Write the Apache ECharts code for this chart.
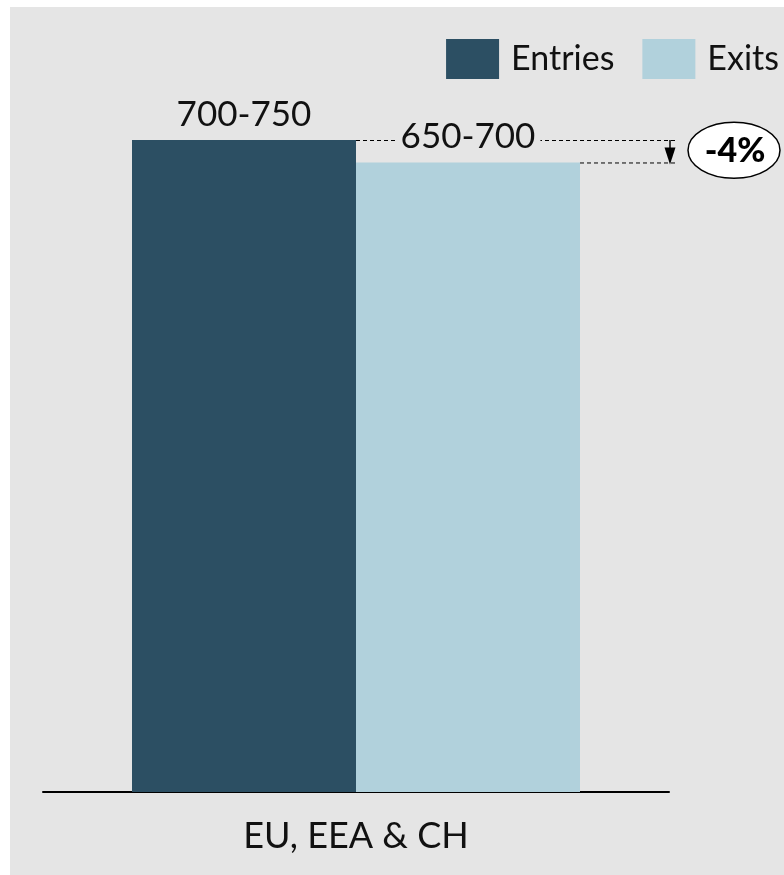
<!DOCTYPE html>
<html>
<head>
<meta charset="utf-8">
<script src="https://cdn.jsdelivr.net/npm/echarts@6/dist/echarts.min.js"></script>
<style>
html,body{margin:0;padding:0;background:#ffffff;}
#chart{width:784px;height:875px;}
</style>
</head>
<body>
<div id="chart"></div>
<script>
const categories = ['EU, EEA & CH'];
const seriesNames = ['Entries', 'Exits'];
const entriesValues = [725];
const exitsValues = [700];
const entriesLabels = ['700-750'];
const exitsLabels = ['650-700'];
const changeLabel = '-4%';

const FONT = 'Lato, "Noto Sans", sans-serif';
const chart = echarts.init(document.getElementById('chart'), null, {renderer: 'canvas'});

const option = {
  backgroundColor: '#ffffff',
  animation: false,
  legend: {
    data: seriesNames,
    top: 34,
    right: 0,
    itemWidth: 53,
    itemHeight: 40,
    itemGap: 28,
    icon: 'rect',
    textStyle: {fontFamily: FONT, fontSize: 34, color: '#111', padding: [0, 0, 0, 7]}
  },
  grid: {left: 43, right: 115, top: 140, bottom: 83, containLabel: false},
  xAxis: {
    type: 'category',
    data: categories,
    axisLine: {show: true, lineStyle: {color: '#000', width: 2}},
    axisTick: {show: false},
    axisLabel: {fontFamily: FONT, fontSize: 36, color: '#111', margin: 26}
  },
  yAxis: {
    type: 'value',
    min: 0,
    max: 725,
    show: false,
    splitLine: {show: false}
  },
  series: [
    {
      name: 'Entries',
      type: 'bar',
      data: entriesValues,
      barWidth: 224,
      barGap: '0%',
      itemStyle: {color: '#2c4f63'},
      label: {
        show: true, position: 'top', distance: 8,
        formatter: (p) => entriesLabels[p.dataIndex],
        fontFamily: FONT, fontSize: 35, color: '#111'
      }
    },
    {
      name: 'Exits',
      type: 'bar',
      data: exitsValues,
      barWidth: 224,
      itemStyle: {color: '#b1d1dc'},
      label: {
        show: true, position: 'top', distance: 8,
        formatter: (p) => exitsLabels[p.dataIndex],
        fontFamily: FONT, fontSize: 35, color: '#111',
        backgroundColor: '#e5e5e5', padding: [0, 5, 0, 5]
      }
    }
  ]
};
chart.setOption(option);

function drawAnnotations() {
  const yTop = chart.convertToPixel({yAxisIndex: 0}, entriesValues[0]);
  const yLow = chart.convertToPixel({yAxisIndex: 0}, exitsValues[0]);
  const xCenter = chart.convertToPixel({xAxisIndex: 0}, categories[0]);
  const xEntriesRight = xCenter;
  const xExitsRight = xCenter + 224;
  const xEnd = 678;
  const xArrow = 670;
  const dash = {stroke: '#000', lineWidth: 1, lineDash: [4, 3]};
  chart.setOption({
    graphic: [
      {type: 'rect', z: -10, silent: true, shape: {x: 10, y: 7, width: 774, height: 868}, style: {fill: '#e5e5e5'}},
      {type: 'line', z: 1, shape: {x1: xEntriesRight, y1: yTop + 0.5, x2: xEnd, y2: yTop + 0.5}, style: dash},
      {type: 'line', z: 1, shape: {x1: xExitsRight, y1: yLow + 0.5, x2: xEnd, y2: yLow + 0.5}, style: dash},
      {type: 'line', z: 1, shape: {x1: xArrow, y1: yTop, x2: xArrow, y2: yLow - 12}, style: {stroke: '#000', lineWidth: 1.5}},
      {type: 'polygon', z: 1, shape: {points: [[xArrow - 5.5, yLow - 15], [xArrow + 5.5, yLow - 15], [xArrow, yLow + 2]]}, style: {fill: '#000'}},
      {type: 'ellipse', z: 1, shape: {cx: 734, cy: (yTop + yLow) / 2 - 1, rx: 46, ry: 28}, style: {fill: '#ffffff', stroke: '#000', lineWidth: 1.5}},
      {type: 'text', z: 2, x: 735, y: (yTop + yLow) / 2, style: {text: changeLabel, fontFamily: FONT, fontWeight: 900, fontSize: 34, fill: '#000', align: 'center', verticalAlign: 'middle'}}
    ]
  });
}
drawAnnotations();
</script>
</body>
</html>
